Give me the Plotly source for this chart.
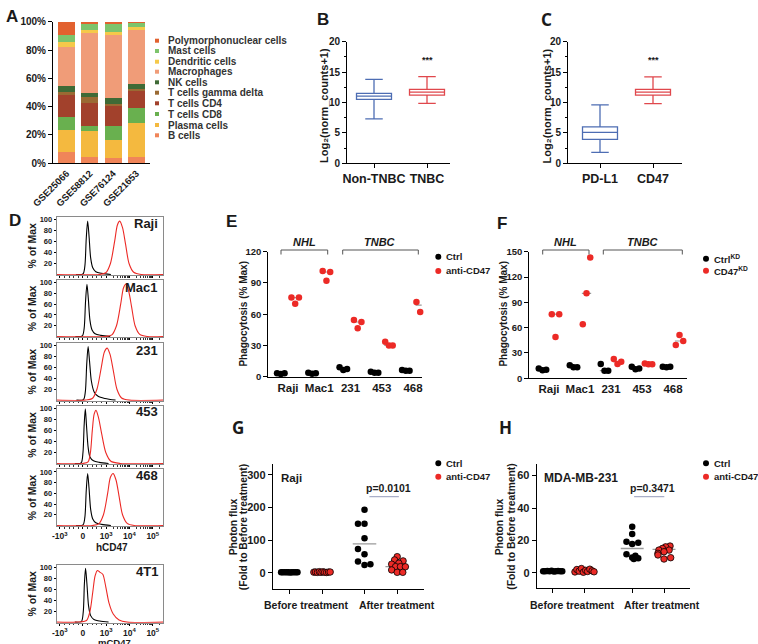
import numpy as np
import plotly.graph_objects as go

W, H = 758, 644
FONT = "Liberation Sans"
INK = "#1a1a1a"
RED = "#ec2a26"
BLUE = "#4d6db3"
BOXRED = "#e0474c"
GRAY = "#9a9a9a"

# ---------------- A: immune cell fractions (%), stacked bottom -> top
A_DATASETS = ["GSE25066", "GSE58812", "GSE76124", "GSE21653"]
A_B_CELLS = [8.2, 4.7, 3.5, 4.7]
A_PLASMA = [15.3, 18.3, 13.0, 24.0]
A_CD8 = [9.5, 3.4, 9.9, 10.1]
A_CD4 = [15.0, 16.0, 14.1, 13.0]
A_GAMMA_DELTA = [2.6, 4.2, 1.5, 0.4]
A_NK = [4.0, 2.8, 3.9, 3.8]
A_MACRO = [27.4, 42.8, 44.7, 38.6]
A_DENDRITIC = [4.0, 1.8, 2.4, 1.4]
A_MAST = [4.6, 4.4, 5.8, 3.3]
A_PMN = [9.4, 1.6, 1.2, 0.7]

# ---------------- B / C: box statistics, log2(norm_counts+1)
B_GROUPS = ["Non-TNBC", "TNBC"]
B_LOW = [7.3, 9.85]
B_Q1 = [10.5, 11.2]
B_MED = [11.05, 11.7]
B_Q3 = [11.5, 12.15]
B_HIGH = [13.8, 14.25]

C_GROUPS = ["PD-L1", "CD47"]
C_LOW = [1.8, 9.8]
C_Q1 = [3.95, 11.2]
C_MED = [5.1, 11.7]
C_Q3 = [6.0, 12.15]
C_HIGH = [9.6, 14.2]

# ---------------- D: flow histograms (% of max), x in display decades
D_TICKS = ["-10<sup>3</sup>", "0", "10<sup>3</sup>", "10<sup>4</sup>", "10<sup>5</sup>"]
D_LABELS = ["Raji", "Mac1", "231", "453", "468", "4T1"]
D_ISO_X = [
    [-0.3, 0.0, 0.08, 0.14, 0.2, 0.26, 0.33, 0.42, 0.55, 0.8, 1.2],
    [-0.33, -0.03, 0.05, 0.11, 0.17, 0.23, 0.3, 0.39, 0.52, 0.77, 1.17],
    [-0.28, 0.02, 0.1, 0.16, 0.22, 0.28, 0.36, 0.48, 0.65, 0.95, 1.4],
    [-0.35, -0.08, 0.0, 0.05, 0.1, 0.15, 0.22, 0.3, 0.45, 0.7, 1.1],
    [-0.3, 0.0, 0.08, 0.14, 0.2, 0.26, 0.33, 0.42, 0.55, 0.8, 1.2],
    [-0.35, -0.07, 0.01, 0.06, 0.11, 0.17, 0.24, 0.33, 0.47, 0.72, 1.1],
]
D_ISO_Y = [
    [0, 1, 15, 65, 97, 70, 30, 12, 5, 2, 0],
    [0, 1, 15, 65, 97, 70, 30, 12, 5, 2, 0],
    [0, 1, 15, 65, 98, 72, 35, 15, 7, 3, 0],
    [0, 1, 20, 70, 100, 70, 30, 12, 5, 2, 0],
    [0, 1, 15, 65, 97, 70, 30, 12, 5, 2, 0],
    [0, 1, 18, 70, 99, 70, 30, 12, 5, 2, 0],
]
D_CD47_X = [
    [0.7, 0.98, 1.18, 1.36, 1.48, 1.58, 1.7, 1.83, 1.98, 2.18, 2.5],
    [0.96, 1.24, 1.44, 1.62, 1.74, 1.84, 1.96, 2.09, 2.24, 2.44, 2.76],
    [0.1, 0.4, 0.6, 0.78, 0.92, 1.04, 1.16, 1.3, 1.46, 1.66, 2.0],
    [0.0, 0.22, 0.32, 0.4, 0.48, 0.56, 0.66, 0.8, 0.98, 1.2, 1.6],
    [0.4, 0.68, 0.88, 1.06, 1.18, 1.3, 1.42, 1.55, 1.7, 1.9, 2.2],
    [-0.3, 0.15, 0.3, 0.42, 0.52, 0.62, 0.72, 0.85, 0.98, 1.12, 1.3, 1.55, 1.9],
]
D_CD47_Y = [
    [0, 3, 20, 60, 90, 97, 85, 55, 20, 4, 0],
    [0, 3, 20, 60, 90, 97, 85, 55, 20, 4, 0],
    [0, 3, 20, 58, 88, 95, 84, 55, 20, 4, 0],
    [0, 3, 20, 60, 90, 97, 85, 55, 20, 4, 0],
    [0, 3, 20, 60, 90, 97, 85, 55, 20, 4, 0],
    [0, 3, 20, 55, 85, 95, 92, 88, 65, 35, 15, 4, 0],
]

# ---------------- E / F: phagocytosis (% max)
E_GROUPS = ["Raji", "Mac1", "231", "453", "468"]
E_CTRL = [[3.2, 2.6, 3.2], [3.8, 2.9, 3.2], [9.0, 6.4, 7.4], [4.8, 3.8, 3.8], [6.4, 5.8, 5.8]]
E_ANTI = [[76, 70, 76], [101.4, 92.2, 100.5], [54.4, 46.4, 52.5], [33.6, 30, 30], [71.7, 62, 68.8]]
F_CTRL = [[11.5, 9.5, 10], [15.4, 13, 13], [17, 9, 9], [13.8, 10.7, 11.5], [13.8, 13, 13.8]]
F_KD = [[76, 49, 76], [64, 100.7, 143], [22.9, 17, 19.7], [17.4, 16.6, 16.6], [39.5, 51.3, 44.2]]

# ---------------- G / H: photon flux (fold to before treatment)
G_BEFORE_CTRL = [1.0, 1.2, 0.9, 1.1, 1.0, 0.8, 1.3, 1.0, 0.9, 1.1]
G_BEFORE_ANTI = [1.5, 2.2, 0.8, 3.0, 1.0, 2.5, 1.2, 0.6, 1.8, 2.0]
G_AFTER_CTRL = [192.6, 149.5, 149.5, 105.6, 72.8, 56.5, 33.8, 23.6, 25.8]
G_AFTER_ANTI = [49, 39, 36, 29, 26, 18.5, 18.5, 18, 8.3, 1, 1]
G_LINES = [1, 1.5, 88, 18.5]
G_P = "p=0.0101"

H_BEFORE_CTRL = [1.0, 0.9, 1.1, 1.0, 1.2, 0.8, 1.0, 1.1, 0.9, 1.0]
H_BEFORE_ANTI = [0.5, 2.0, 1.0, 2.6, 0.3, 1.5, 0.8, 2.2, 1.2, 0.6]
H_AFTER_CTRL = [28.4, 23.9, 19.2, 18.6, 17.7, 11.5, 10.5, 9.5, 8.9, 8.5]
H_AFTER_ANTI = [16.5, 16, 15, 14, 14, 13, 12, 11, 9.3, 8.5]
H_LINES = [1, 1, 15, 14.5]
H_P = "p=0.3471"

# horizontal spread of the dots (axis units)
SPREAD_3 = [-0.12, 0.0, 0.12]
SPREAD_BEFORE = [-0.25, -0.2, -0.14, -0.08, -0.03, 0.03, 0.08, 0.14, 0.2, 0.25]
G_AFTER_CTRL_DX = [0, -0.2, 0, 0, -0.2, 0, -0.2, 0, 0.18]
G_AFTER_ANTI_DX = [0, -0.08, 0.18, 0.05, -0.17, -0.05, 0.1, 0.25, -0.17, 0, 0.17]
H_AFTER_CTRL_DX = [0, 0, -0.18, 0.19, 0, -0.18, 0.1, 0, 0.19, 0.05]
H_AFTER_ANTI_DX = [0.19, 0.05, -0.05, -0.16, 0.16, 0, -0.19, -0.19, 0.21, 0]


def xdom(a, b):
    return [a / W, b / W]


def ydom(top, bottom):
    return [1 - bottom / H, 1 - top / H]


def px(x):
    return x / W


def py(y):
    return 1 - y / H


def tfont(size=10, color=INK):
    return dict(family=FONT, size=size, color=color, weight="bold")


def base_axis(**kw):
    ax = dict(showline=True, linecolor="black", linewidth=1, ticks="outside", ticklen=4,
              tickwidth=1, tickcolor="black", showgrid=False, zeroline=False, automargin=False,
              tickfont=tfont(10))
    ax.update(kw)
    return ax


fig = go.Figure()
layout = {}
annotations = []
shapes = []


def add_axes(n, xkw, ykw):
    xn = "x" if n == 1 else f"x{n}"
    yn = "y" if n == 1 else f"y{n}"
    layout["xaxis" if n == 1 else f"xaxis{n}"] = base_axis(anchor=yn, **xkw)
    layout["yaxis" if n == 1 else f"yaxis{n}"] = base_axis(anchor=xn, **ykw)
    return xn, yn


def note(text, x, y, size=10, anchor="center", angle=0, italic=False, color=INK, family=FONT):
    annotations.append(dict(text=text, x=px(x), y=py(y), xref="paper", yref="paper",
                            xanchor=anchor, yanchor="middle", showarrow=False, textangle=angle,
                            font=dict(family=family, size=size, color=color, weight="bold",
                                      style="italic" if italic else "normal")))


# ================= A
xa, ya = add_axes(1,
                  dict(domain=xdom(53, 150), type="category", range=[-0.58, 3.58], tickangle=-45,
                       ticks="", tickfont=tfont(9.5)),
                  dict(domain=ydom(21.7, 163.3), range=[0, 100], tickvals=[0, 20, 40, 60, 80, 100],
                       ticktext=["0%", "20%", "40%", "60%", "80%", "100%"], tickfont=tfont(10)))
a_series = [A_B_CELLS, A_PLASMA, A_CD8, A_CD4, A_GAMMA_DELTA, A_NK, A_MACRO, A_DENDRITIC, A_MAST, A_PMN]
a_names = ["B cells", "Plasma cells", "T cells CD8", "T cells CD4", "T cells gamma delta", "NK cells",
           "Macrophages", "Dendritic cells", "Mast cells", "Polymorphonuclear cells"]
a_colors = ["#f08559", "#f4b93f", "#69b04f", "#a2412c", "#9a6a33", "#3f6a36",
            "#f09c78", "#f5c94a", "#7dc46c", "#e2612f"]
for vals, name, col in zip(a_series, a_names, a_colors):
    fig.add_bar(x=A_DATASETS, y=vals, name=name, marker=dict(color=col, line=dict(width=0)),
                width=0.74, xaxis=xa, yaxis=ya, showlegend=False)

a_leg_y = [40.7, 51, 61.7, 71.7, 82.3, 92.7, 103.3, 114, 125, 135.3]
for yy, name, col in zip(a_leg_y, a_names[::-1], a_colors[::-1]):
    shapes.append(dict(type="rect", xref="paper", yref="paper", x0=px(155), x1=px(159),
                       y0=py(yy + 2), y1=py(yy - 2), fillcolor=col, line=dict(width=0)))
    note(name, 166, yy, size=10, anchor="left", color="#333333")
note("A", 11.7, 16.7, size=17)

# ================= B and C
for n, groups, low, q1, med, q3, high, xd, letter, lx in [
    (2, B_GROUPS, B_LOW, B_Q1, B_MED, B_Q3, B_HIGH, (347, 450), "B", 323.3),
    (3, C_GROUPS, C_LOW, C_Q1, C_MED, C_Q3, C_HIGH, (568, 682), "C", 546.7),
]:
    c0 = {2: 374, 3: 600}[n]
    rng = [(xd[0] - c0) / 53, (xd[1] - c0) / 53]
    xn, yn = add_axes(n,
                      dict(domain=xdom(*xd), type="category", range=rng, tickfont=tfont(12.5)),
                      dict(domain=ydom(41.7, 163.3), range=[0, 20], tickvals=[0, 5, 10, 15, 20],
                           minor=dict(dtick=2.5, ticklen=2, ticks="outside", tickcolor="black")))
    for i, col in enumerate([BLUE, BOXRED]):
        fig.add_box(x=[groups[i]], q1=[q1[i]], median=[med[i]], q3=[q3[i]],
                    lowerfence=[low[i]], upperfence=[high[i]], width=0.66, whiskerwidth=0.5,
                    line=dict(color=col, width=1.3), fillcolor="rgba(255,255,255,0)",
                    xaxis=xn, yaxis=yn, showlegend=False)
    note("Log₂(norm_counts+1)", lx, 105.7, size=11, angle=-90)
    note("***", c0 + 53, 60, size=9)
    note(letter, lx, 19.5, size=17, family="Noto Sans" if letter == "C" else FONT)

# ================= D
D_XMIN, D_XMAX = -1.13, 3.44
d_minor = [-0.8, -0.6, -0.4, -0.2, 0.2, 0.4, 0.6, 0.8]
for dec in [1, 2]:
    d_minor += [dec + float(np.log10(k)) for k in range(2, 10)]
d_minor += [3 + float(np.log10(k)) for k in range(2, 3)]
d_panels = [(216.7, 275), (280, 337), (342.7, 400.7), (406, 464), (469.3, 526), (565, 622.7)]
d_lab_y = [223.3, 287.3, 350.7, 411.7, 475, 571]
for k, (top, bot) in enumerate(d_panels):
    show = k >= 4
    xn, yn = add_axes(4 + k,
                      dict(domain=xdom(56.7, 163), range=[D_XMIN, D_XMAX], tickvals=[-1, 0, 1, 2, 3],
                           ticktext=D_TICKS, showticklabels=show, mirror=True, linecolor="#8a8a8a",
                           ticklen=2, tickfont=tfont(8.5),
                           minor=dict(tickvals=d_minor, ticklen=1.5, ticks="outside", tickcolor="#333")),
                      dict(domain=ydom(top, bot), range=[-1, 105], tickvals=[20, 40, 60, 80, 100],
                           mirror=True, linecolor="#8a8a8a", ticklen=2, tickfont=tfont(7.5)))
    fig.add_scatter(x=D_ISO_X[k], y=D_ISO_Y[k], mode="lines",
                    line=dict(color="black", width=1.1, shape="spline", smoothing=0.8),
                    xaxis=xn, yaxis=yn, showlegend=False)
    fig.add_scatter(x=[D_XMIN] + D_CD47_X[k] + [D_XMAX], y=[0] + D_CD47_Y[k] + [0], mode="lines",
                    line=dict(color=RED, width=1.1, shape="spline", smoothing=0.8),
                    xaxis=xn, yaxis=yn, showlegend=False)
    note(D_LABELS[k], 160, d_lab_y[k], size=13, anchor="right")
    note("% of Max", 31.7, (top + bot) / 2, size=10.5, angle=-90)
note("hCD47", 112, 547.5, size=10)
note("mCD47", 114, 642, size=9.5)
note("D", 15, 220, size=17)


# ================= E and F
def dot_panel(n, xd, yd, yr, ytv, ctrl, treat, c0, step, off):
    xn, yn = add_axes(n,
                      dict(domain=xdom(*xd), range=[(xd[0] - c0) / step, (xd[1] - c0) / step],
                           tickvals=list(range(len(E_GROUPS))), ticktext=E_GROUPS, ticks="",
                           tickfont=tfont(11.5)),
                      dict(domain=ydom(*yd), range=yr, tickvals=ytv, tickfont=tfont(9.5)))
    for vals, sign, col in [(ctrl, -1, "black"), (treat, 1, RED)]:
        xs, ys, lx, ly = [], [], [], []
        for g, grp in enumerate(vals):
            cx = g + sign * off
            xs += [cx + d for d in SPREAD_3]
            ys += grp
            m = float(np.median(grp))
            lx += [cx - 0.15, cx + 0.15, None]
            ly += [m, m, None]
        fig.add_scatter(x=lx, y=ly, mode="lines", line=dict(color=GRAY, width=1.2),
                        xaxis=xn, yaxis=yn, showlegend=False)
        fig.add_scatter(x=xs, y=ys, mode="markers", marker=dict(size=6.5, color=col),
                        xaxis=xn, yaxis=yn, showlegend=False, cliponaxis=False)
    return xn, yn


dot_panel(10, (268.3, 421.7), (251.7, 376.7), [0, 120], [0, 30, 60, 90, 120],
          E_CTRL, E_ANTI, 288, 31.25, 0.23)
dot_panel(11, (529.3, 686.7), (251.7, 378.3), [0, 150], [0, 30, 60, 90, 120, 150],
          F_CTRL, F_KD, 549, 31, 0.21)

for (x0, x1, lab) in [(281, 327.7, "NHL"), (342.7, 418.3, "TNBC"),
                      (542.7, 589, "NHL"), (603.3, 682.3, "TNBC")]:
    shapes.append(dict(type="path", xref="paper", yref="paper", line=dict(color="#555", width=1),
                       path=f"M {px(x0)} {py(254.5)} L {px(x0)} {py(250)} L {px(x1)} {py(250)} L {px(x1)} {py(254.5)}"))
    note(lab, (x0 + x1) / 2, 242.5, size=11, italic=True)

note("Phagocytosis (% Max)", 243.3, 313.3, size=10, angle=-90)
note("Phagocytosis (% Max)", 503.3, 313.3, size=10, angle=-90)
note("E", 231.7, 221.7, size=17)
note("F", 501.7, 223.3, size=17)


def legend2(x, y1, y2, t1, t2):
    for yy, col, t in [(y1, "black", t1), (y2, RED, t2)]:
        shapes.append(dict(type="circle", xref="paper", yref="paper", x0=px(x - 3), x1=px(x + 3),
                           y0=py(yy + 3), y1=py(yy - 3), fillcolor=col, line=dict(width=0)))
        note(t, x + 6, yy, size=9.5, anchor="left")


legend2(438.3, 256.7, 271, "Ctrl", "anti-CD47")
legend2(706, 258.7, 270.7, "Ctrl<sup>KD</sup>", "CD47<sup>KD</sup>")


# ================= G and H
def flux_panel(n, xd, yd, yr, ytv, pos, c0, step, before_c, before_a, after_c, after_a,
               dxc, dxa, lines, p_x, p_y, spread):
    xn, yn = add_axes(n,
                      dict(domain=xdom(*xd), range=[(xd[0] - c0) / step, (xd[1] - c0) / step],
                           tickvals=pos, showticklabels=False, ticklen=4),
                      dict(domain=ydom(*yd), range=yr, tickvals=ytv, tickfont=tfont(11)))
    lx, ly = [], []
    for p, m, half in zip(pos, lines, [spread, spread, 0.36, 0.36]):
        lx += [p - half, p + half, None]
        ly += [m, m, None]
    fig.add_scatter(x=lx, y=ly, mode="lines", line=dict(color=GRAY, width=1.3),
                    xaxis=xn, yaxis=yn, showlegend=False)
    groups = [
        (pos[0], before_c, [d * spread / 0.25 for d in SPREAD_BEFORE], "black", 0),
        (pos[1], before_a, [d * spread / 0.25 for d in SPREAD_BEFORE], RED, 0.8),
        (pos[2], after_c, dxc, "black", 0),
        (pos[3], after_a, dxa, RED, 0.8),
    ]
    for p, vals, dxs, col, lw in groups:
        fig.add_scatter(x=[p + d for d in dxs], y=vals, mode="markers",
                        marker=dict(size=6.5, color=col, line=dict(color="black", width=lw)),
                        xaxis=xn, yaxis=yn, showlegend=False, cliponaxis=False)
    shapes.append(dict(type="line", xref=xn, yref=yn, x0=p_x[0], x1=p_x[1], y0=p_y, y1=p_y,
                       line=dict(color="#a9aec8", width=1.3)))
    return xn, yn


flux_panel(12, (272.7, 424), (464.3, 589.3), [-51, 332], [0, 100, 200, 300], [0, 1, 2.3, 3.3],
           289.3, 32.7, G_BEFORE_CTRL, G_BEFORE_ANTI, G_AFTER_CTRL, G_AFTER_ANTI,
           G_AFTER_CTRL_DX, G_AFTER_ANTI_DX, G_LINES, (2.45, 3.35), 233, 0.25)
flux_panel(13, (536.7, 690), (464.3, 588.3), [-9.6, 67], [0, 20, 40, 60], [0, 1, 2.5, 3.5],
           552.7, 31.8, H_BEFORE_CTRL, H_BEFORE_ANTI, H_AFTER_CTRL, H_AFTER_ANTI,
           H_AFTER_CTRL_DX, H_AFTER_ANTI_DX, H_LINES, (2.56, 3.51), 47, 0.3)

note(G_P, 388.3, 488.3, size=10.5)
note(H_P, 652.7, 488.3, size=10.5)
note("Raji", 278.7, 478.3, size=11.5, anchor="left")
note("MDA-MB-231", 541.7, 478.3, size=12, anchor="left")
for x1, x2 in [(306, 396.7), (572.3, 662)]:
    note("Before treatment", x1, 605, size=10.5)
    note("After treatment", x2, 605, size=10.5)
for xa_, xb_ in [(233.3, 243.3), (499.3, 510.7)]:
    note("Photon flux", xa_, 527, size=10.3, angle=-90)
    note("(Fold to Before treatment)", xb_, 527, size=10.3, angle=-90)
legend2(438.3, 463.3, 476.7, "Ctrl", "anti-CD47")
legend2(706, 463.3, 476.7, "Ctrl", "anti-CD47")
note("G", 238, 427.5, size=17, family="Noto Sans")
note("H", 505, 427.5, size=17, family="Noto Sans")

fig.update_layout(
    width=W, height=H, margin=dict(l=0, r=0, t=0, b=0),
    paper_bgcolor="white", plot_bgcolor="white",
    barmode="stack", showlegend=False,
    font=dict(family=FONT, color=INK),
    annotations=annotations, shapes=shapes,
    **layout,
)
# the page's default 8px body margin would shift the whole figure
fig.write_html("out.html", config={"displayModeBar": False},
               post_script="document.body.style.margin='0';")
